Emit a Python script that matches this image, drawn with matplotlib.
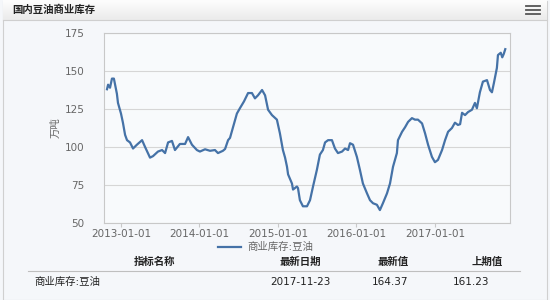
import matplotlib
matplotlib.use("Agg")
import matplotlib.pyplot as plt
import matplotlib.dates as md
from matplotlib.patches import Rectangle
import pandas

plt.rcParams['font.family'] = ['DejaVu Sans', 'Noto Sans CJK SC']

# 商业库存:豆油 (万吨)
dates = [
    "2012-10-28", "2012-11-02", "2012-11-11", "2012-11-20", "2012-11-29", "2012-12-13",
    "2012-12-18", "2013-01-01", "2013-01-10", "2013-01-20", "2013-01-29", "2013-02-12",
    "2013-02-26", "2013-03-16", "2013-04-09", "2013-04-23", "2013-05-16", "2013-05-30",
    "2013-06-22", "2013-07-11", "2013-07-25", "2013-08-08", "2013-08-26", "2013-09-09",
    "2013-10-02", "2013-10-26", "2013-11-09", "2013-11-27", "2013-12-20", "2014-01-03",
    "2014-01-27", "2014-02-19", "2014-03-14", "2014-03-28", "2014-04-20", "2014-04-30",
    "2014-05-14", "2014-05-23", "2014-06-06", "2014-06-24", "2014-07-08", "2014-07-27",
    "2014-08-15", "2014-09-02", "2014-09-16", "2014-09-30", "2014-10-19", "2014-11-02",
    "2014-11-16", "2014-12-04", "2014-12-27", "2015-01-10", "2015-01-24", "2015-02-03",
    "2015-02-12", "2015-02-17", "2015-03-07", "2015-03-12", "2015-03-30", "2015-04-04",
    "2015-04-13", "2015-04-27", "2015-05-16", "2015-05-30", "2015-06-13", "2015-07-01",
    "2015-07-15", "2015-07-29", "2015-08-08", "2015-08-22", "2015-09-09", "2015-09-23",
    "2015-10-07", "2015-10-26", "2015-11-09", "2015-11-23", "2015-12-02", "2015-12-16",
    "2016-01-03", "2016-01-17", "2016-01-31", "2016-02-19", "2016-03-04", "2016-03-18",
    "2016-04-05", "2016-04-19", "2016-05-03", "2016-05-22", "2016-06-05", "2016-06-19",
    "2016-07-07", "2016-07-12", "2016-07-31", "2016-08-14", "2016-08-28", "2016-09-15",
    "2016-09-29", "2016-10-13", "2016-11-01", "2016-11-15", "2016-11-29", "2016-12-17",
    "2016-12-31", "2017-01-14", "2017-02-02", "2017-02-16", "2017-03-02", "2017-03-20",
    "2017-04-03", "2017-04-17", "2017-04-27", "2017-05-06", "2017-05-20", "2017-06-03",
    "2017-06-21", "2017-07-05", "2017-07-14", "2017-07-28", "2017-08-11", "2017-08-30",
    "2017-09-13", "2017-09-22", "2017-10-01", "2017-10-15", "2017-10-20", "2017-11-02",
    "2017-11-09", "2017-11-16", "2017-11-23",
]
values = [
    138, 141, 139, 145, 145, 135,
    129, 122, 116, 108, 104.5, 103,
    99, 101.5, 104.5, 100, 93, 94,
    97, 98, 96, 103, 104, 98,
    102, 102, 106.5, 101.5, 98, 97,
    98.5, 97.5, 98, 96, 97.5, 98.7,
    104.5, 106, 113, 122, 125.5, 130,
    135.5, 135.5, 132, 134, 137.5, 134,
    124.5, 121, 118, 109, 98, 93,
    87, 82, 76, 72, 74, 73,
    65, 61, 61, 65, 74, 85,
    95, 98, 103, 104.5, 104.5, 99,
    96, 97, 99, 98, 102.5, 101.5,
    93.5, 85, 76, 69.5, 65, 63,
    62, 58.5, 63, 69.5, 76, 87,
    96, 104.5, 110, 113, 116.5, 119,
    118, 118, 115.5, 109, 101.5, 93.5,
    90, 91.5, 98, 104.5, 110, 112.5,
    116, 114.5, 115, 122.5, 121, 123,
    124.5, 129, 125.5, 136, 143, 144,
    137.5, 136, 142, 152, 160.5, 162,
    159, 161.23, 164.37,
]

series_name = "商业库存:豆油"
chart_title = "国内豆油商业库存"
y_unit = "万吨"
y_ticks = [50, 75, 100, 125, 150, 175]
x_ticks = ["2013-01-01", "2014-01-01", "2015-01-01", "2016-01-01", "2017-01-01"]
table_header = ["指标名称", "最新日期", "最新值", "上期值"]
table_row = [series_name, "2017-11-23", "164.37", "161.23"]

df = pandas.DataFrame({"date": pandas.to_datetime(dates), "value": values})

bg = "#f5f7fa"
line_color = "#4572a7"
text_gray = "#666666"

fig = plt.figure(figsize=(5.5, 3.0), dpi=100, facecolor=bg)

# outer panel and title bar (kept behind the axes)
fig.patches.append(Rectangle((0.006, 0.0), 0.988, 0.997, transform=fig.transFigure,
                             facecolor=bg, edgecolor="#d0d0d0", lw=0.8, zorder=-3))
for k in range(20):
    shade = 0.99 - 0.07 * k / 19
    fig.patches.append(Rectangle((0.006, 1 - (k + 1) / 300), 0.988, 1.2 / 300,
                                 transform=fig.transFigure, facecolor=(shade, shade, shade),
                                 edgecolor="none", zorder=-2))
fig.add_artist(plt.Line2D([0.006, 0.994], [1 - 20 / 300, 1 - 20 / 300],
                          transform=fig.transFigure, color="#cfcfcf", lw=0.8))
fig.text(12 / 550, 1 - 10 / 300, chart_title, fontsize=7.5, fontweight="bold",
         family=['Noto Sans CJK SC'], color="#222222", va="center", ha="left")
for yy in [6, 10, 14]:
    fig.add_artist(plt.Line2D([526 / 550, 540 / 550], [1 - yy / 300, 1 - yy / 300],
                              transform=fig.transFigure, color="#555555", lw=1.3))

ax = fig.add_axes([104 / 550, 1 - 223 / 300, 406 / 550, 190 / 300])
ax.set_zorder(5)
ax.set_facecolor("#f8fafc")
ax.plot(df["date"], df["value"], color=line_color, lw=1.6)

ax.set_ylim(50, 175)
ax.set_yticks(y_ticks)
ax.set_xlim(pandas.Timestamp("2012-10-14"), pandas.Timestamp("2017-12-15"))
ax.set_xticks(pandas.to_datetime(x_ticks))
ax.xaxis.set_major_formatter(md.DateFormatter("%Y-%m-%d"))
ax.grid(axis="y", color="#d6d6d6", lw=0.8)
ax.set_axisbelow(True)
for s in ax.spines.values():
    s.set_color("#c8c8c8")
    s.set_linewidth(0.8)
ax.tick_params(axis="y", length=0, pad=14, labelsize=7.5, labelcolor=text_gray)
ax.tick_params(axis="x", length=3, color="#c8c8c8", pad=1, labelsize=7.5, labelcolor=text_gray)
ax.set_ylabel(y_unit, fontsize=7.5, color=text_gray, labelpad=3)

# legend below axes
fig.add_artist(plt.Line2D([218 / 550, 241 / 550], [1 - 247 / 300, 1 - 247 / 300],
                          transform=fig.transFigure, color=line_color, lw=1.6))
fig.text(247 / 550, 1 - 247 / 300, series_name, fontsize=7.5, color=text_gray,
         va="center", ha="left")

# table
hx = [155, 300, 393, 487]
for x, t in zip(hx, table_header):
    fig.text(x / 550, 1 - 262 / 300, t, fontsize=7.5, fontweight="bold",
             family=['Noto Sans CJK SC'], color="#222222", ha="center", va="center")
fig.add_artist(plt.Line2D([28 / 550, 520 / 550], [1 - 271 / 300, 1 - 271 / 300],
                          transform=fig.transFigure, color="#bfbfbf", lw=0.8))
fig.text(34 / 550, 1 - 282 / 300, table_row[0], fontsize=7.5, color="#222222",
         ha="left", va="center")
fig.text(300 / 550, 1 - 282 / 300, table_row[1], fontsize=7.5, color="#222222",
         ha="center", va="center")
fig.text(408 / 550, 1 - 282 / 300, table_row[2], fontsize=7.5, color="#222222",
         ha="right", va="center")
fig.text(489 / 550, 1 - 282 / 300, table_row[3], fontsize=7.5, color="#222222",
         ha="right", va="center")

fig.savefig("out.png", dpi=100, facecolor=bg)
